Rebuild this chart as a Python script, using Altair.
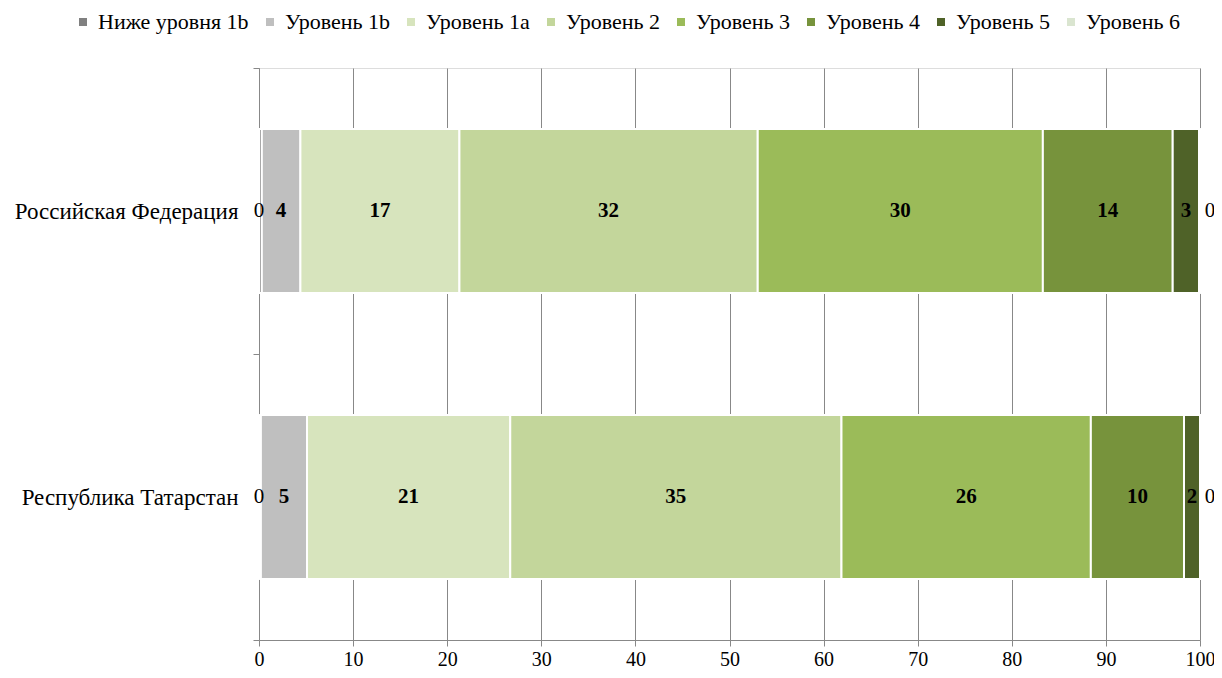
import altair as alt
import pandas as pd

categories = ["Российская Федерация", "Республика Татарстан"]
levels = ["Ниже уровня 1b", "Уровень 1b", "Уровень 1a", "Уровень 2",
          "Уровень 3", "Уровень 4", "Уровень 5", "Уровень 6"]
colors = ["#808080", "#BFBFBF", "#D7E4BD", "#C3D69B",
          "#9BBB59", "#77933C", "#4F6228", "#DAE5D0"]
values_rf = [0.3, 4.1, 16.9, 31.7, 30.3, 13.8, 2.8, 0.1]
values_rt = [0.2, 4.9, 21.6, 35.2, 26.5, 9.9, 1.7, 0.0]
labels_rf = [0, 4, 17, 32, 30, 14, 3, 0]
labels_rt = [0, 5, 21, 35, 26, 10, 2, 0]
x_ticks = [0, 10, 20, 30, 40, 50, 60, 70, 80, 90, 100]

rows = []
for cat, vals, labs in [(categories[0], values_rf, labels_rf),
                        (categories[1], values_rt, labels_rt)]:
    for i, (lev, v, lab) in enumerate(zip(levels, vals, labs)):
        pos = "left" if i == 0 else ("right" if i == len(levels) - 1 else "inside")
        rows.append({"cat": cat, "level": lev, "order": i, "value": v,
                     "label": str(lab), "pos": pos})
df = pd.DataFrame(rows)

FONT = "Liberation Serif"

base = alt.Chart(df).transform_stack(
    stack="value", groupby=["cat"], as_=["x0", "x1"],
    sort=[alt.SortField("order", order="ascending")]
).transform_calculate(mid="(datum.x0 + datum.x1) / 2")

yenc = alt.Y("cat:N", sort=categories, title=None,
             scale=alt.Scale(paddingInner=0, paddingOuter=0),
             axis=alt.Axis(tickBand="extent", domainColor="#888888", tickColor="#888888",
                           tickSize=6, labelFont=FONT, labelFontSize=23, labelColor="black",
                           labelPadding=15, labelLimit=400, grid=False))

xscale = alt.Scale(domain=[0, 100], nice=False)

bars = base.mark_bar(stroke="white", strokeWidth=2, height={"band": 0.573}).encode(
    x=alt.X("x0:Q", scale=xscale, title=None,
            axis=alt.Axis(values=x_ticks, grid=True, gridColor="#888888",
                          domainColor="#888888", tickColor="#888888", tickSize=6,
                          labelFont=FONT, labelFontSize=20, labelColor="black",
                          labelPadding=3, labelFlush=False)),
    x2="x1:Q",
    y=yenc,
    color=alt.Color("level:N", sort=levels,
                    scale=alt.Scale(domain=levels, range=colors),
                    legend=alt.Legend(title=None, orient="none", direction="horizontal",
                                      legendX=-187, legendY=-57,
                                      symbolType="square", symbolSize=64,
                                      symbolStrokeWidth=0,
                                      labelFont=FONT, labelFontSize=22, labelColor="black",
                                      columnPadding=10, labelOffset=4, labelLimit=300)),
    order=alt.Order("order:Q"),
)

inside = base.transform_filter("datum.pos == 'inside'").mark_text(
    font=FONT, fontSize=21, fontWeight="bold", color="black"
).encode(x=alt.X("mid:Q", scale=xscale), y=alt.Y("cat:N", sort=categories), text="label:N")

left = base.transform_filter("datum.pos == 'left'").mark_text(
    font=FONT, fontSize=21, color="black", dx=0
).encode(x=alt.X("x0:Q", scale=xscale), y=alt.Y("cat:N", sort=categories), text="label:N")

right = base.transform_filter("datum.pos == 'right'").mark_text(
    font=FONT, fontSize=21, color="black", dx=10
).encode(x=alt.X("x1:Q", scale=xscale), y=alt.Y("cat:N", sort=categories), text="label:N")

chart = alt.layer(bars, inside, left, right).properties(
    width=941, height=572,
    autosize=alt.AutoSizeParams(type="none"),
    padding={"left": 251, "top": 60, "right": 14, "bottom": 40},
).configure_view(stroke=None).configure(background="white")

chart.save("out.html", embed_options={"renderer": "svg", "actions": False})
